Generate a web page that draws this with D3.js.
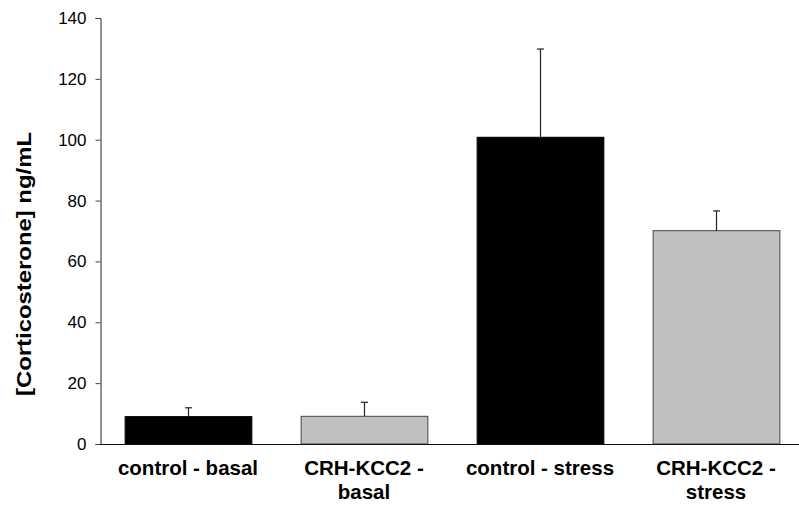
<!DOCTYPE html>
<meta charset="utf-8">
<style>
body { margin: 0; background: #fff; }
svg text { font-family: "Liberation Sans", Arial, sans-serif; fill: #000; }
</style>
<svg width="799" height="508"></svg>
<script src="https://d3js.org/d3.v7.min.js"></script>
<script>
"use strict";

// data
var groups = [["control - basal"], ["CRH-KCC2 -", "basal"], ["control - stress"], ["CRH-KCC2 -", "stress"]];
var means = [9.0, 9.1, 100.8, 70.1];
var errs = [2.9, 4.6, 29.0, 6.5];
var fills = ["#000000", "#c0c0c0", "#000000", "#c0c0c0"];
var yTicks = [0, 20, 40, 60, 80, 100, 120, 140];

var svg = d3.select("svg"),
    width = +svg.attr("width"),
    height = +svg.attr("height");

var x = d3.scaleBand()
    .domain(d3.range(groups.length))
    .range([100, 804])
    .paddingInner(0.28)
    .paddingOuter(0.14);

var y = d3.scaleLinear().domain([0, 140]).range([444, 18]);

// bars
svg.append("g").selectAll("rect")
  .data(means)
  .enter().append("rect")
    .attr("x", function(d, i) { return x(i) + 0.5; })
    .attr("y", function(d) { return y(d); })
    .attr("width", x.bandwidth())
    .attr("height", function(d) { return y(0) - y(d); })
    .attr("fill", function(d, i) { return fills[i]; })
    .attr("stroke", function(d, i) { return i % 2 ? "#444" : "#000"; })
    .attr("stroke-width", 1);

// error bars (upper only)
var eb = svg.append("g").attr("stroke", "#222").attr("stroke-width", 1.2);
means.forEach(function(m, i) {
  var cx = Math.round(x(i) + x.bandwidth() / 2) + 0.5;
  eb.append("line")
    .attr("x1", cx).attr("x2", cx)
    .attr("y1", y(m)).attr("y2", y(m + errs[i]));
  eb.append("line")
    .attr("x1", cx - 3.5).attr("x2", cx + 3.5)
    .attr("y1", y(m + errs[i])).attr("y2", y(m + errs[i]));
});

// y axis
var yAxis = svg.append("g")
    .attr("transform", "translate(100.5,0)")
    .call(d3.axisLeft(y).tickValues(yTicks).tickSize(5).tickPadding(9));
yAxis.select(".domain").attr("stroke", "#222");
yAxis.selectAll(".tick line").attr("stroke", "#444");
yAxis.selectAll(".tick text")
    .style("font-size", "17px")
    .attr("fill", "#000");

// x axis baseline
svg.append("line")
    .attr("x1", 100).attr("x2", width)
    .attr("y1", 444.5).attr("y2", 444.5)
    .attr("stroke", "#111");

// category labels
var lab = svg.append("g").selectAll("text")
  .data(groups)
  .enter().append("text")
    .attr("x", function(d, i) { return x(i) + x.bandwidth() / 2; })
    .attr("y", 475)
    .attr("text-anchor", "middle")
    .style("font-size", "20.5px")
    .style("font-weight", "bold");
lab.selectAll("tspan")
  .data(function(d) { return d; })
  .enter().append("tspan")
    .attr("x", function() { return this.parentNode.getAttribute("x"); })
    .attr("dy", function(d, j) { return j ? 23.5 : 0; })
    .text(function(d) { return d; });

// y title
svg.append("text")
    .attr("transform", "translate(31,264) rotate(-90)")
    .attr("text-anchor", "middle")
    .attr("textLength", 264)
    .attr("lengthAdjust", "spacingAndGlyphs")
    .style("font-size", "21px")
    .style("font-weight", "bold")
    .text("[Corticosterone] ng/mL");
</script>
